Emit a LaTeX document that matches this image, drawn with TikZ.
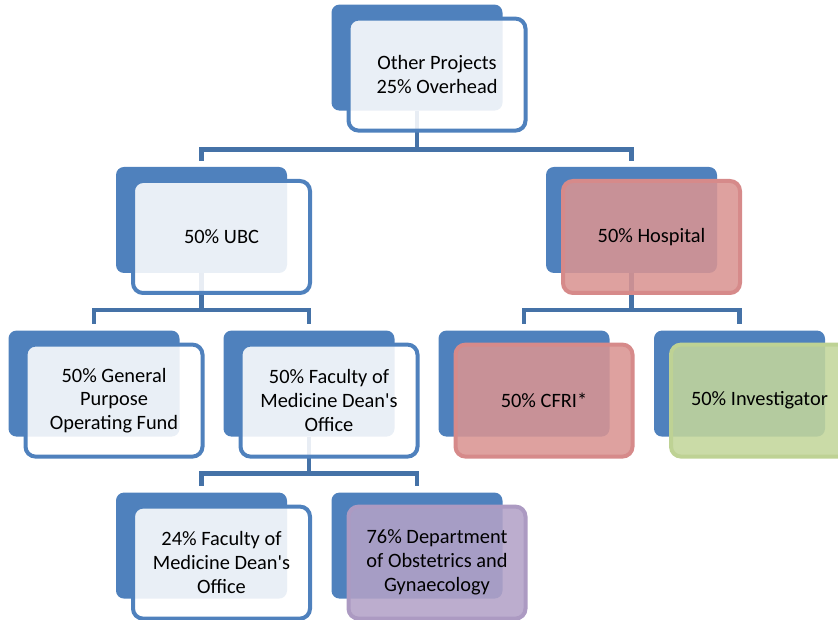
\documentclass[tikz,border=0pt]{standalone}
\usepackage{fontspec}
\setmainfont{Carlito}
\usepackage{tikz}
\usetikzlibrary{positioning}
\definecolor{backBlue}{RGB}{79,129,189}
\definecolor{linkBlue}{RGB}{69,114,167}
\definecolor{softPink}{RGB}{217,148,146}
\definecolor{pinkEdge}{RGB}{214,138,138}
\definecolor{softGreen}{RGB}{195,214,155}
\definecolor{greenEdge}{RGB}{190,210,148}
\definecolor{softPurple}{RGB}{179,162,199}
\definecolor{purpleEdge}{RGB}{172,154,194}
\tikzset{
  backbox/.style={fill=backBlue, rounded corners=0.2cm, minimum width=4.275cm, minimum height=2.65cm, inner sep=0pt, outer sep=0pt},
  frontbox/.style={draw=backBlue, line width=0.1cm, fill=white, fill opacity=0.88, text opacity=1, rounded corners=0.25cm, minimum width=4.425cm, minimum height=2.8cm, inner sep=0pt, outer sep=0pt, align=center, font=\fontsize{14.5}{17}\selectfont},
  pinkbox/.style={frontbox, draw=pinkEdge, fill=softPink},
  greenbox/.style={frontbox, draw=greenEdge, fill=softGreen},
  purplebox/.style={frontbox, draw=purpleEdge, fill=softPurple},
  link/.style={draw=linkBlue, line width=0.11cm}
}
\begin{document}
\begin{tikzpicture}
        \useasboundingbox (0,0) rectangle (20.95,15.5);
        \node[backbox] (top) at (10.425,14.06) {};
        \node[backbox] (ubc) at (5.0375,10.0) {};
        \node[backbox] (hosp) at (15.7875,10.0) {};
        \node[backbox] (gen) at (2.35,5.91) {};
        \node[backbox] (fac) at (7.725,5.91) {};
        \node[backbox] (cfri) at (13.1,5.91) {};
        \node[backbox] (inv) at (18.4875,5.91) {};
        \node[backbox] (dean) at (5.0375,1.86) {};
        \node[backbox] (obgyn) at (10.425,1.86) {};
        \draw[link] (top.south) -- ++(0,-0.975) -| ([yshift=0.16cm]ubc.north);
        \draw[link] (top.south) -- ++(0,-0.975) -| ([yshift=0.16cm]hosp.north);
        \draw[link] (ubc.south) -- ++(0,-0.925) -| ([yshift=0.16cm]gen.north);
        \draw[link] (ubc.south) -- ++(0,-0.925) -| ([yshift=0.16cm]fac.north);
        \draw[link] (hosp.south) -- ++(0,-0.925) -| ([yshift=0.16cm]cfri.north);
        \draw[link] (hosp.south) -- ++(0,-0.925) -| ([yshift=0.16cm]inv.north);
        \draw[link] (fac.south) -- ++(0,-0.925) -| ([yshift=0.16cm]dean.north);
        \draw[link] (fac.south) -- ++(0,-0.925) -| ([yshift=0.16cm]obgyn.north);
        \node[frontbox, below right=0.35cm and 0.425cm of top.north west] (topf) {Other Projects\\25\% Overhead};
        \node[frontbox, below right=0.35cm and 0.425cm of ubc.north west] (ubcf) {50\% UBC};
        \node[pinkbox, below right=0.35cm and 0.425cm of hosp.north west] (hospf) {50\% Hospital};
        \node[frontbox, below right=0.35cm and 0.425cm of gen.north west] (genf) {50\% General\\Purpose\\Operating Fund};
        \node[frontbox, below right=0.35cm and 0.425cm of fac.north west] (facf) {50\% Faculty of\\Medicine Dean\textquotesingle s\\Office};
        \node[pinkbox, below right=0.35cm and 0.425cm of cfri.north west] (cfrif) {50\% CFRI*};
        \node[greenbox, below right=0.35cm and 0.425cm of inv.north west] (invf) {50\% Investigator};
        \node[frontbox, below right=0.35cm and 0.425cm of dean.north west] (deanf) {24\% Faculty of\\Medicine Dean\textquotesingle s\\Office};
        \node[purplebox, below right=0.35cm and 0.425cm of obgyn.north west] (obgynf) {76\% Department\\of Obstetrics and\\Gynaecology};
      \end{tikzpicture}
\end{document}
